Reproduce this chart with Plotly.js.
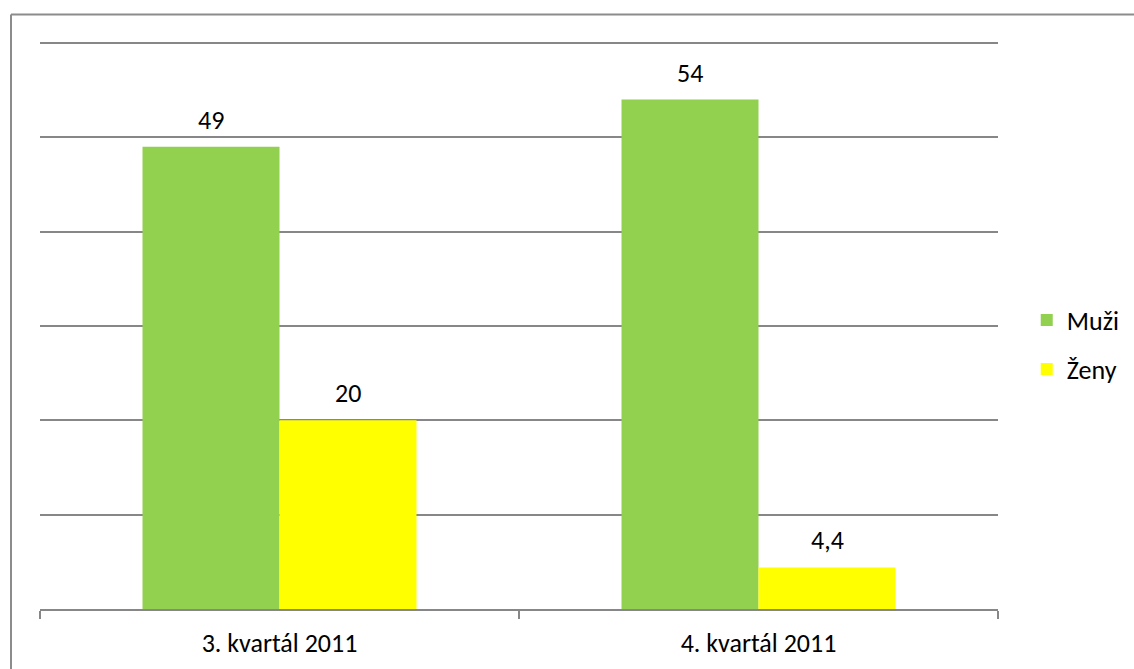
<!DOCTYPE html>
<html>
<head>
<meta charset="utf-8">
<script src="https://cdn.plot.ly/plotly-3.0.1.min.js"></script>
<style>
  html, body { margin: 0; padding: 0; background: #fff; }
  #chart { width: 1134px; height: 669px; }
</style>
</head>
<body>
<div id="chart"></div>
<script>
const categories = ["3. kvartál 2011", "4. kvartál 2011"];
const seriesNames = ["Muži", "Ženy"];
const muzi = [49, 54];
const zeny = [20, 4.4];
const colors = ["#92D050", "#FFFF00"];
const yMax = 60;

const FONT = "Carlito, Calibri, Lato, sans-serif";
const FS = 26;
const GRAY = "#878787";
const barW = 0.286;

const seriesValues = [muzi, zeny];
const offsets = [-barW, 0];

const traces = seriesValues.map((vals, s) => ({
  type: "bar",
  name: seriesNames[s],
  x: categories,
  y: vals,
  width: barW,
  offset: offsets[s],
  marker: { color: colors[s] },
  legendgroup: "g" + s,
  hoverinfo: "none"
}));

const fmt = v => String(v).replace(".", ",");
const annotations = [];
seriesValues.forEach((vals, s) => {
  vals.forEach((v, i) => {
    annotations.push({
      x: i + offsets[s] + barW / 2,
      y: v,
      xref: "x", yref: "y",
      text: fmt(v),
      showarrow: false,
      yanchor: "middle",
      yshift: 27,
      font: { family: FONT, size: FS, color: "#000" }
    });
  });
});

const layout = {
  width: 1134, height: 669,
  margin: { l: 40, r: 136, t: 43, b: 60, autoexpand: false },
  paper_bgcolor: "#fff",
  plot_bgcolor: "#fff",
  font: { family: FONT, size: FS, color: "#000" },
  barmode: "group",
  showlegend: true,
  legend: {
    x: 1.030, y: 0.467, xanchor: "left", yanchor: "middle",
    traceorder: "grouped",
    tracegroupgap: 12,
    font: { family: FONT, size: FS, color: "#000" },
    itemwidth: 30,
    bgcolor: "rgba(0,0,0,0)"
  },
  xaxis: {
    type: "category",
    range: [-0.5, 1.5],
    showline: true, linecolor: GRAY, linewidth: 2,
    ticks: "outside", tickson: "boundaries", ticklen: 8, tickwidth: 2, tickcolor: GRAY,
    ticklabelstandoff: 10,
    showgrid: false, zeroline: false,
    tickfont: { family: FONT, size: FS, color: "#000" },
    fixedrange: true
  },
  yaxis: {
    range: [0, yMax], dtick: 10, tick0: 0,
    showgrid: true, gridcolor: GRAY, gridwidth: 2,
    showticklabels: false, zeroline: false, showline: false, ticks: "",
    fixedrange: true
  },
  annotations: annotations,
  shapes: [
    { type: "line", xref: "paper", yref: "paper", layer: "below",
      x0: 0, x1: 1, y0: 1, y1: 1,
      line: { color: GRAY, width: 2 } },
    { type: "line", xref: "paper", yref: "paper",
      x0: (11 - 40) / 958, x1: (1140 - 40) / 958,
      y0: (609.5 - 15) / 566, y1: (609.5 - 15) / 566,
      line: { color: "#8c8c8c", width: 2 } },
    { type: "line", xref: "paper", yref: "paper",
      x0: (11 - 40) / 958, x1: (11 - 40) / 958,
      y0: (609.5 - 15) / 566, y1: (609.5 - 680) / 566,
      line: { color: "#8c8c8c", width: 2 } }
  ]
};

Plotly.newPlot("chart", traces, layout, { displayModeBar: false, staticPlot: true });
</script>
</body>
</html>
